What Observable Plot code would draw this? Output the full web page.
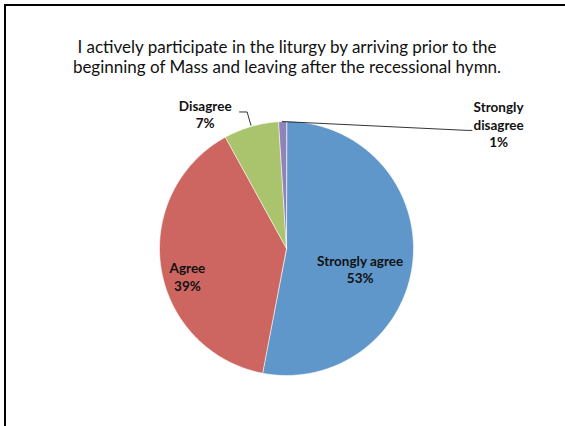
<!DOCTYPE html>
<html>
<head>
<meta charset="utf-8">
<script src="https://cdn.jsdelivr.net/npm/d3@7"></script>
<script src="https://cdn.jsdelivr.net/npm/@observablehq/plot@0.6"></script>
<style>
  html, body { margin: 0; padding: 0; background: #fff; }
  #wrap { position: relative; width: 565px; height: 426px; overflow: hidden; }
  #frame { position: absolute; left: 4px; top: 4px; right: -10px; bottom: -10px;
           border-left: 2.5px solid #000; border-top: 2.5px solid #000; }
  #title { position: absolute; left: 0; width: 574px; top: 37px; text-align: center;
           font-family: Lato, "Open Sans", sans-serif; font-size: 17px; line-height: 20px; color: #111; }
  #chart { position: absolute; left: 0; top: 0; }
</style>
</head>
<body>
<div id="wrap">
  <div id="frame"></div>
  <div id="title">I actively participate in the liturgy by arriving prior to the<br>beginning of Mass and leaving after the recessional hymn.</div>
  <div id="chart"></div>
</div>
<script>
const categories = ["Strongly agree", "Agree", "Disagree", "Strongly disagree"];
const percents = [53, 39, 7, 1];
const colors = ["#6097CA", "#CD6660", "#A9C46D", "#9382B9"];

// layout (unit-circle coordinates, not data)
const labelPos = [[0.58, -0.16], [-0.78, -0.22], [-0.64, 1.06], [1.67, 0.98]];

const total = d3.sum(percents);
const slices = [];
let acc = 0;
categories.forEach((c, i) => {
  const a0 = acc / total * 2 * Math.PI;
  acc += percents[i];
  const a1 = acc / total * 2 * Math.PI;
  const n = Math.max(4, Math.ceil((a1 - a0) / 0.01));
  slices.push({cat: c, x: 0, y: 0});
  for (let k = 0; k <= n; k++) {
    const a = a0 + (a1 - a0) * k / n;
    slices.push({cat: c, x: Math.sin(a), y: Math.cos(a)});
  }
});

const labels = categories.map((c, i) => ({
  text: (i === 3 ? "Strongly\ndisagree" : c) + "\n" + percents[i] + "%",
  x: labelPos[i][0], y: labelPos[i][1]
}));

function mid(i) {
  const s = d3.sum(percents.slice(0, i)) + percents[i] / 2;
  const a = s / total * 2 * Math.PI;
  return [Math.sin(a), Math.cos(a)];
}
const m3 = mid(3);
const leaders = [
  {g: "d", x: -0.37, y: 1.075}, {g: "d", x: -0.31, y: 1.075}, {g: "d", x: -0.28, y: 0.97},
  {g: "s", x: m3[0], y: m3[1]}, {g: "s", x: 1.42, y: 0.93}, {g: "s", x: 1.46, y: 0.93}
];

const chart = Plot.plot({
  width: 565,
  height: 426,
  margin: 0,
  x: {domain: [-1, 1], range: [159, 413], axis: null},
  y: {domain: [-1, 1], range: [375, 121], axis: null},
  color: {domain: categories, range: colors},
  style: {background: "transparent"},
  marks: [
    Plot.line(slices, {x: "x", y: "y", z: "cat", fill: "cat", stroke: "white", strokeWidth: 0.6, sort: null, curve: "linear-closed"}),
    Plot.line(leaders, {x: "x", y: "y", z: "g", stroke: "#000", strokeWidth: 0.8}),
    Plot.text(labels, {x: "x", y: "y", text: "text", textAnchor: "middle", lineHeight: 1.3,
      fontFamily: "Lato, 'Open Sans', sans-serif", fontWeight: "bold", fontSize: 13.5, fill: "#111"})
  ]
});
document.getElementById("chart").appendChild(chart);
</script>
</body>
</html>
